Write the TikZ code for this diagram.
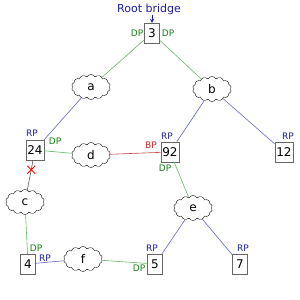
\documentclass[tikz,border=0pt]{standalone}
\usepackage{fontspec}
\setmainfont{DejaVu Sans}
\usetikzlibrary{shapes.symbols,shapes.misc,arrows.meta}
\definecolor{dpgreen}{RGB}{20,130,20}
\definecolor{lgreen}{RGB}{100,185,100}
\definecolor{rpblue}{RGB}{30,30,160}
\definecolor{lblue}{RGB}{100,100,200}
\definecolor{bpred}{RGB}{210,30,40}
\definecolor{lred}{RGB}{200,70,70}
\tikzset{
  bridge/.style={draw=gray!80!black, fill=white, inner sep=1.5pt, minimum width=15pt, minimum height=20pt, font=\fontsize{12}{12}\selectfont},
  lan/.style={cloud, draw=black, fill=white, cloud puffs=14, cloud puff arc=120, aspect=1.6, minimum width=39pt, minimum height=25pt, inner sep=0pt, font=\fontsize{12}{12}\selectfont},
  dp/.style={text=dpgreen, font=\fontsize{9}{9}\selectfont, inner sep=0pt},
  rp/.style={text=rpblue, font=\fontsize{9}{9}\selectfont, inner sep=0pt},
  bp/.style={text=bpred, font=\fontsize{9}{9}\selectfont, inner sep=0pt},
  gl/.style={draw=lgreen, line width=0.6pt},
  bl/.style={draw=lblue, line width=0.6pt},
  rl/.style={draw=lred, line width=0.6pt},
  kl/.style={draw=gray!70!black, line width=0.6pt},
}
\begin{document}
\begin{tikzpicture}[x=1pt,y=-1pt]
\useasboundingbox[fill=white] (0,0) rectangle (300,300);
% clouds
\node[lan] (a) at (91,87) {a};
\node[lan] (b) at (212,89) {b};
\node[lan] (c) at (25,202) {c};
\node[lan] (d) at (91,155) {d};
\node[lan] (e) at (193,208) {e};
\node[lan] (f) at (83,259) {f};
% bridges
\node[bridge] (n3) at (152,33) {3};
\node[bridge] (n24) at (35,150) {24};
\node[bridge] (n92) at (170,152) {92};
\node[bridge] (n12) at (284,152) {12};
\node[bridge] (n4) at (28,264) {4};
\node[bridge] (n5) at (155,264) {5};
\node[bridge] (n7) at (240,264) {7};
% links
\draw[gl] (n3) -- (a);
\draw[gl] (n3) -- (b);
\draw[bl] (a) -- (n24);
\draw[bl] (b) -- (n92);
\draw[bl] (b) -- (n12);
\draw[gl] (n24) -- (d);
\draw[rl] (d) -- (n92);
\draw[kl] (n24) -- node[pos=0.32, cross out, draw=red, line width=0.9pt, minimum size=7pt, inner sep=0pt] (blk) {} (c);
\draw[gl] (c) -- (n4);
\draw[bl] (n4) -- (f);
\draw[gl] (f) -- (n5);
\draw[gl] (n92) -- (e);
\draw[bl] (e) -- (n5);
\draw[bl] (e) -- (n7);
% root label
\node[text=rpblue, font=\fontsize{11}{11}\selectfont, inner sep=0pt] (root) at (149,9) {Root bridge};
\draw[-{Stealth[length=4pt,width=4pt]}, draw=rpblue, fill=rpblue, line width=0.8pt] (root.south -| n3) -- (n3.north);
% port labels
\node[dp] (l3l) at (137,33) {DP};
\node[dp] (l3r) at (168,33) {DP};
\node[rp] (l24) at (32,133) {RP};
\node[dp] (l24d) at (55,141) {DP};
\node[rp] (l92) at (167,136) {RP};
\node[bp] (l92b) at (151,145) {BP};
\node[dp] (l92d) at (165,168) {DP};
\node[rp] (l12) at (288,136) {RP};
\node[dp] (l4d) at (36,248) {DP};
\node[rp] (l4r) at (45,258) {RP};
\node[dp] (l5d) at (139,268) {DP};
\node[rp] (l5r) at (152,248) {RP};
\node[rp] (l7) at (243,248) {RP};
\end{tikzpicture}
\end{document}
